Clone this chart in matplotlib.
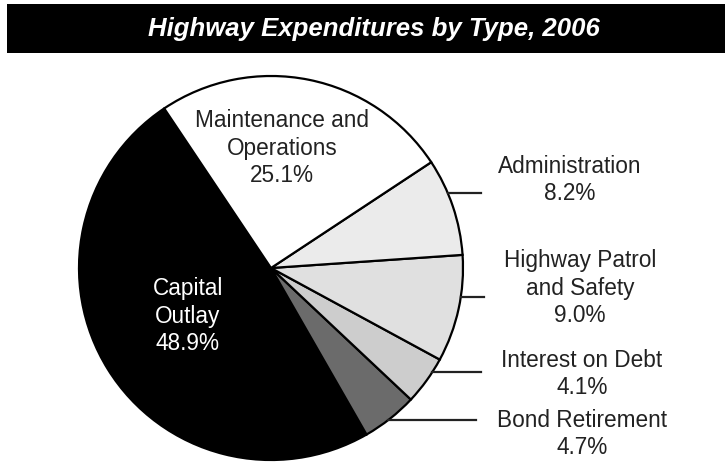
import numpy as np
import matplotlib.pyplot as plt
from matplotlib.patches import Rectangle

plt.rcParams['font.family'] = ['Liberation Sans', 'DejaVu Sans']

# expenditure shares, in drawing order (counter-clockwise from the top-left)
categories = ["Capital\nOutlay", "Bond Retirement", "Interest on Debt",
              "Highway Patrol\nand Safety", "Administration",
              "Maintenance and\nOperations"]
shares = [48.9, 4.7, 4.1, 9.0, 8.2, 25.1]
colors = ["#000000", "#6b6b6b", "#cdcdcd", "#e0e0e0", "#ebebeb", "#ffffff"]

# label positions in pixel space (x, y from top) and where the leaders sit
label_xy = [(188, 316), (582, 434), (582, 374), (580, 288), (570, 180), (282, 148)]
leader_y = [None, 420, 372, 297, 193, None]
leader_end = [None, 476, 481, 484, 481, None]

W, H = 725, 463
cx, cy, r = 271, 268, 192

fig = plt.figure(figsize=(W / 100, H / 100), dpi=100)
ax = fig.add_axes([0, 0, 1, 1])

ax.pie(shares, colors=colors, startangle=123.8, counterclock=True,
       center=(cx, H - cy), radius=r,
       wedgeprops=dict(edgecolor="black", linewidth=1.6))
ax.set_xlim(0, W)
ax.set_ylim(0, H)
ax.set_aspect("equal")
ax.axis("off")

# title bar
ax.add_patch(Rectangle((7, H - 53), W - 7, 49, facecolor="black", edgecolor="none"))
ax.text(374, H - 29, "Highway Expenditures by Type, 2006", color="white",
        fontsize=18.5, fontweight="bold", fontstyle="italic",
        ha="center", va="center")

for i, (name, val) in enumerate(zip(categories, shares)):
    x, y = label_xy[i]
    color = "white" if colors[i] == "#000000" else "#222222"
    ax.text(x, H - y, f"{name}\n{val:.1f}%", color=color, fontsize=16.3,
            ha="center", va="center", linespacing=1.27)
    if leader_y[i] is not None:
        dy = leader_y[i] - cy
        x0 = cx + np.sqrt(r ** 2 - dy ** 2)
        ax.plot([x0, leader_end[i]], [H - leader_y[i]] * 2, color="#222222", lw=1.6)

fig.savefig("out.png", dpi=100)
